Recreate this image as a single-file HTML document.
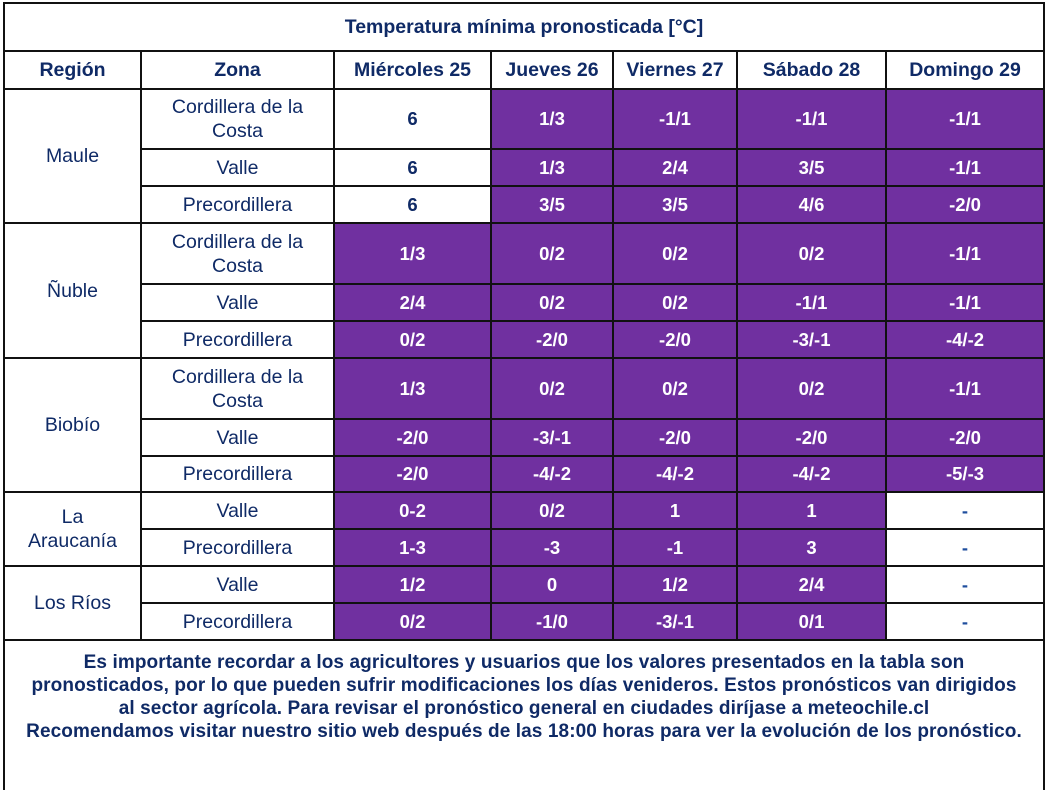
<!DOCTYPE html>
<html><head><meta charset="utf-8"><style>
body{margin:0;background:#fff;width:1050px;height:782px;overflow:hidden;font-family:"Liberation Sans",Arial,sans-serif;color:#0f2a66}
table{position:absolute;left:3px;top:2px;border-collapse:collapse;table-layout:fixed;width:1042px}
td{border:2px solid #111;text-align:center;vertical-align:middle;padding:0;font-size:19.5px;line-height:24px;white-space:nowrap}
.h{font-weight:bold;font-size:19.5px}
.p{background:#7030a0;color:#fff;font-weight:bold;font-size:18.5px}
.w{font-weight:bold;font-size:18.5px}
.d{font-weight:bold;font-size:18.5px;color:#1f4e9e}
.foot{font-weight:bold;font-size:19px;line-height:23px;vertical-align:top;padding-top:10px;border-bottom:none;letter-spacing:0.1px}
</style></head><body>
<table>
<colgroup><col style="width:137px"><col style="width:193px"><col style="width:157px"><col style="width:122px"><col style="width:124px"><col style="width:149px"><col style="width:158px"></colgroup>
<tr style="height:48px"><td colspan="7" class="h">Temperatura mínima pronosticada [°C]</td></tr>
<tr style="height:38px"><td class="h">Región</td><td class="h">Zona</td><td class="h">Miércoles 25</td><td class="h">Jueves 26</td><td class="h">Viernes 27</td><td class="h">Sábado 28</td><td class="h">Domingo 29</td></tr>
<tr style="height:60px"><td rowspan="3">Maule</td><td>Cordillera de la<br>Costa</td><td class="w">6</td><td class="p">1/3</td><td class="p">-1/1</td><td class="p">-1/1</td><td class="p">-1/1</td></tr>
<tr style="height:37px"><td>Valle</td><td class="w">6</td><td class="p">1/3</td><td class="p">2/4</td><td class="p">3/5</td><td class="p">-1/1</td></tr>
<tr style="height:37px"><td>Precordillera</td><td class="w">6</td><td class="p">3/5</td><td class="p">3/5</td><td class="p">4/6</td><td class="p">-2/0</td></tr>
<tr style="height:61px"><td rowspan="3">Ñuble</td><td>Cordillera de la<br>Costa</td><td class="p">1/3</td><td class="p">0/2</td><td class="p">0/2</td><td class="p">0/2</td><td class="p">-1/1</td></tr>
<tr style="height:37px"><td>Valle</td><td class="p">2/4</td><td class="p">0/2</td><td class="p">0/2</td><td class="p">-1/1</td><td class="p">-1/1</td></tr>
<tr style="height:37px"><td>Precordillera</td><td class="p">0/2</td><td class="p">-2/0</td><td class="p">-2/0</td><td class="p">-3/-1</td><td class="p">-4/-2</td></tr>
<tr style="height:61px"><td rowspan="3">Biobío</td><td>Cordillera de la<br>Costa</td><td class="p">1/3</td><td class="p">0/2</td><td class="p">0/2</td><td class="p">0/2</td><td class="p">-1/1</td></tr>
<tr style="height:37px"><td>Valle</td><td class="p">-2/0</td><td class="p">-3/-1</td><td class="p">-2/0</td><td class="p">-2/0</td><td class="p">-2/0</td></tr>
<tr style="height:36px"><td>Precordillera</td><td class="p">-2/0</td><td class="p">-4/-2</td><td class="p">-4/-2</td><td class="p">-4/-2</td><td class="p">-5/-3</td></tr>
<tr style="height:37px"><td rowspan="2">La<br>Araucanía</td><td>Valle</td><td class="p">0-2</td><td class="p">0/2</td><td class="p">1</td><td class="p">1</td><td class="d">-</td></tr>
<tr style="height:37px"><td>Precordillera</td><td class="p">1-3</td><td class="p">-3</td><td class="p">-1</td><td class="p">3</td><td class="d">-</td></tr>
<tr style="height:37px"><td rowspan="2">Los Ríos</td><td>Valle</td><td class="p">1/2</td><td class="p">0</td><td class="p">1/2</td><td class="p">2/4</td><td class="d">-</td></tr>
<tr style="height:37px"><td>Precordillera</td><td class="p">0/2</td><td class="p">-1/0</td><td class="p">-3/-1</td><td class="p">0/1</td><td class="d">-</td></tr>
<tr style="height:150px"><td colspan="7" class="foot">Es importante recordar a los agricultores y usuarios que los valores presentados en la tabla son<br>pronosticados, por lo que pueden sufrir modificaciones los días venideros. Estos pronósticos van dirigidos<br>al sector agrícola. Para revisar el pronóstico general en ciudades diríjase a meteochile.cl<br>Recomendamos visitar nuestro sitio web después de las 18:00 horas para ver la evolución de los pronóstico.</td></tr>
</table>
</body></html>
